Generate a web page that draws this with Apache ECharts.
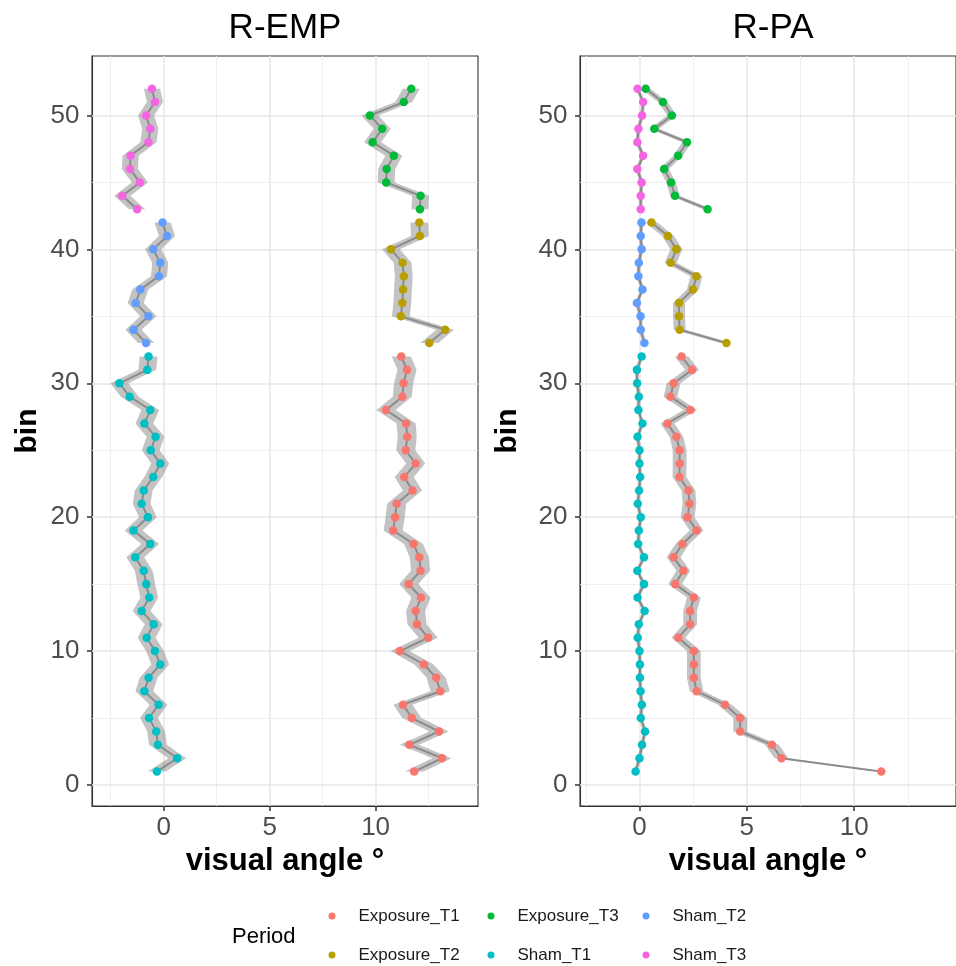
<!DOCTYPE html>
<html>
<head>
<meta charset="utf-8">
<script src="https://cdn.jsdelivr.net/npm/echarts@6/dist/echarts.min.js"></script>
<style>
html,body{margin:0;padding:0;background:#ffffff;}
#chart{width:956px;height:966px;}
</style>
</head>
<body>
<div id="chart"></div>
<script>
// ---------------- DATA ----------------
const periods = ['Exposure_T1', 'Exposure_T2', 'Exposure_T3', 'Sham_T1', 'Sham_T2', 'Sham_T3'];
const periodColors = ['#F8766D', '#B79F00', '#00BA38', '#00BFC4', '#619CFF', '#F564E3'];
const panelNames = ['R-EMP', 'R-PA'];

const binsT1 = [1,2,3,4,5,6,7,8,9,10,11,12,13,14,15,16,17,18,19,20,21,22,23,24,25,26,27,28,29,30,31,32];
const binsT2 = [33,34,35,36,37,38,39,40,41,42];
const binsT3 = [43,44,45,46,47,48,49,50,51,52];

// R-EMP panel (visual angle in degrees, ordered by bin ascending)
const empExposureT1 = [11.82,13.13,11.59,12.99,11.71,11.29,13.05,12.86,12.28,11.15,12.48,11.95,11.89,12.14,11.56,12.12,12.06,11.79,10.83,10.92,10.99,11.74,11.35,11.89,11.42,11.49,11.44,10.49,11.26,11.32,11.48,11.21];
const empExposureT2 = [12.53,13.28,11.19,11.26,11.29,11.33,11.27,10.72,12.09,12.06];
const empExposureT3 = [12.09,12.12,10.50,10.52,10.86,9.86,10.31,9.73,11.33,11.68];
const empShamT1 = [-0.32,0.64,-0.27,-0.35,-0.69,-0.24,-0.91,-0.71,-0.16,-0.41,-0.80,-0.47,-1.04,-0.68,-0.82,-0.94,-1.34,-0.63,-1.42,-0.74,-1.04,-0.94,-0.49,-0.16,-0.61,-0.38,-0.91,-0.63,-1.60,-2.09,-0.77,-0.71];
const empShamT2 = [-0.83,-1.42,-0.72,-1.32,-1.10,-0.22,-0.16,-0.49,0.16,-0.05];
const empShamT3 = [-1.25,-1.95,-1.12,-1.59,-1.56,-0.72,-0.63,-0.83,-0.41,-0.55];

// R-PA panel
const paExposureT1 = [11.26,6.61,6.17,4.69,4.69,3.98,2.66,2.53,2.53,2.53,1.81,2.36,2.36,2.53,1.66,2.04,1.59,2.00,2.66,2.24,2.33,2.28,1.86,1.87,1.87,1.72,1.30,2.37,1.44,1.59,2.45,1.96];
const paExposureT2 = [4.05,1.87,1.84,1.84,2.49,2.65,1.45,1.72,1.33,0.56];
const paExposureT3 = [3.17,1.65,1.47,1.15,1.80,2.21,0.69,1.51,1.09,0.29];
const paShamT1 = [-0.18,0.00,0.12,0.26,0.06,0.11,0.05,0.02,0.02,0.00,-0.08,-0.03,0.24,-0.09,0.21,-0.10,0.21,-0.06,-0.03,0.06,-0.08,-0.02,0.03,0.00,0.00,-0.09,0.14,-0.05,-0.03,-0.11,-0.12,0.10];
const paShamT2 = [0.23,0.06,0.05,-0.12,0.14,-0.05,-0.03,0.10,0.06,0.09];
const paShamT3 = [0.06,0.06,0.10,-0.10,0.17,-0.10,-0.05,0.12,0.17,-0.09];

// estimated half-width of the grey band (degrees), per period, per panel
const empBandHalfWidth = [0.45, 0.42, 0.40, 0.42, 0.38, 0.38];
const paBandHalfWidth  = [0.32, 0.28, 0.22, 0.09, 0.09, 0.09];

// tick labels
const xTickValues = [0, 5, 10];
const yTickValues = [0, 10, 20, 30, 40, 50];
const xMinorGridValues = [-2.5, 2.5, 7.5, 12.5];
const yMinorGridValues = [5, 15, 25, 35, 45];

// ---------------- ASSEMBLY ----------------
const periodBins = [binsT1, binsT2, binsT3, binsT1, binsT2, binsT3];
const panelValues = [
  [empExposureT1, empExposureT2, empExposureT3, empShamT1, empShamT2, empShamT3],
  [paExposureT1, paExposureT2, paExposureT3, paShamT1, paShamT2, paShamT3]
];
const panelBands = [empBandHalfWidth, paBandHalfWidth];

const FONT = 'Liberation Sans, Arial, Helvetica, sans-serif';
const layout = [
  { left: 92, top: 56, width: 386, height: 750, xmin: -3.38, xmax: 14.83, yNameGap: 49 },
  { left: 580, top: 56, width: 386, height: 750, xmin: -2.77, xmax: 14.74, yNameGap: 57 }
];
const yMin = -1.57, yMax = 54.44;

const grids = [], xAxes = [], yAxes = [], series = [];

layout.forEach(function (L, gi) {
  grids.push({ left: L.left, top: L.top, width: L.width, height: L.height,
    show: true, borderColor: '#333333', borderWidth: 1.1, backgroundColor: 'transparent', containLabel: false });
  xAxes.push({
    type: 'value', gridIndex: gi, min: L.xmin, max: L.xmax, position: 'bottom',
    axisLine: { show: true, onZero: false, lineStyle: { color: '#333333', width: 1.1 } },
    axisTick: { show: true, inside: false, length: 5, customValues: xTickValues, lineStyle: { color: '#333333', width: 1.5 } },
    axisLabel: { customValues: xTickValues, fontSize: 26, color: '#4d4d4d', margin: 9, fontFamily: FONT },
    splitLine: { show: false },
    name: 'visual angle °', nameLocation: 'middle', nameGap: 40,
    nameTextStyle: { fontSize: 31, fontWeight: 'bold', color: '#000000', fontFamily: FONT }
  });
  yAxes.push({
    type: 'value', gridIndex: gi, min: yMin, max: yMax,
    axisLine: { show: true, onZero: false, lineStyle: { color: '#333333', width: 1.1 } },
    axisTick: { show: true, inside: false, length: 5, customValues: yTickValues, lineStyle: { color: '#333333', width: 1.5 } },
    axisLabel: { customValues: yTickValues, fontSize: 26, color: '#4d4d4d', margin: 12.5, fontFamily: FONT },
    splitLine: { show: false },
    name: 'bin', nameLocation: 'middle', nameGap: L.yNameGap,
    nameTextStyle: { fontSize: 30, fontWeight: 'bold', color: '#000000', fontFamily: FONT }
  });

  // grid lines (ggplot theme_bw style) via markLine
  const gridLineData = [];
  xMinorGridValues.forEach(function (v) { gridLineData.push({ xAxis: v, lineStyle: { color: '#ebebeb', width: 0.8, type: 'solid' } }); });
  yMinorGridValues.forEach(function (v) { gridLineData.push({ yAxis: v, lineStyle: { color: '#ebebeb', width: 0.8, type: 'solid' } }); });
  xTickValues.forEach(function (v) { gridLineData.push({ xAxis: v, lineStyle: { color: '#e6e6e6', width: 1.5, type: 'solid' } }); });
  yTickValues.forEach(function (v) { gridLineData.push({ yAxis: v, lineStyle: { color: '#e6e6e6', width: 1.5, type: 'solid' } }); });

  periods.forEach(function (p, k) {
    const bins = periodBins[k];
    const vals = panelValues[gi][k];
    const h = panelBands[gi][k];
    const pairs = bins.map(function (b, i) { return [vals[i], b]; });

    // grey band
    series.push({
      type: 'custom', xAxisIndex: gi, yAxisIndex: gi, z: 2, silent: true, animation: false, clip: true,
      data: pairs,
      encode: { x: 0, y: 1 },
      renderItem: function (params, api) {
        if (params.dataIndex !== 0) return null;
        const pts = [];
        for (let i = 0; i < bins.length; i++) pts.push(api.coord([vals[i] - h, bins[i]]));
        for (let i = bins.length - 1; i >= 0; i--) pts.push(api.coord([vals[i] + h, bins[i]]));
        return { type: 'polygon', shape: { points: pts }, style: { fill: 'rgba(140,140,140,0.52)' } };
      }
    });

    // grey connecting line
    const lineSeries = {
      type: 'line', xAxisIndex: gi, yAxisIndex: gi, z: 3, silent: true, animation: false,
      data: pairs, symbol: 'none',
      lineStyle: { color: 'rgba(100,100,100,0.6)', width: 1.9 }
    };
    if (k === 0) {
      lineSeries.markLine = { silent: true, z: 1, animation: false, symbol: ['none', 'none'],
        label: { show: false }, emphasis: { disabled: true }, data: gridLineData };
    }
    series.push(lineSeries);

    // points
    series.push({
      type: 'scatter', name: p, xAxisIndex: gi, yAxisIndex: gi, z: 4, animation: false,
      data: pairs, symbol: 'circle', symbolSize: 8.5,
      itemStyle: { color: periodColors[k], opacity: 1 }
    });
  });
});

// legend: ggplot fills by column, 2 rows x 3 columns
const legendCols = [328.5, 487.5, 642.5];
const legendRows = [907, 946];
const legends = [];
periods.forEach(function (p, k) {
  const col = Math.floor(k / 2), row = k % 2;
  legends.push({
    data: [{ name: p, icon: 'circle' }],
    left: legendCols[col], top: legendRows[row], padding: 0,
    itemWidth: 43, itemHeight: 7, selectedMode: false,
    textStyle: { fontSize: 17, color: '#1a1a1a', fontFamily: FONT, lineHeight: 18 }
  });
});

const textItems = [
  { x: 285, y: 28.5, text: panelNames[0], fontSize: 35, align: 'center' },
  { x: 773, y: 28.5, text: panelNames[1], fontSize: 35, align: 'center' },
  { x: 232, y: 937, text: 'Period', fontSize: 22, align: 'left' }
];

const option = {
  animation: false,
  backgroundColor: '#ffffff',
  textStyle: { fontFamily: FONT },
  grid: grids,
  xAxis: xAxes,
  yAxis: yAxes,
  legend: legends,
  series: series,
  graphic: textItems.map(function (t) {
    return { type: 'text', x: t.x, y: t.y, silent: true,
      style: { text: t.text, fontSize: t.fontSize, fill: '#000000', align: t.align, verticalAlign: 'middle', fontFamily: FONT } };
  })
};

const chart = echarts.init(document.getElementById('chart'), null, { renderer: 'canvas' });
chart.setOption(option);
</script>
</body>
</html>
